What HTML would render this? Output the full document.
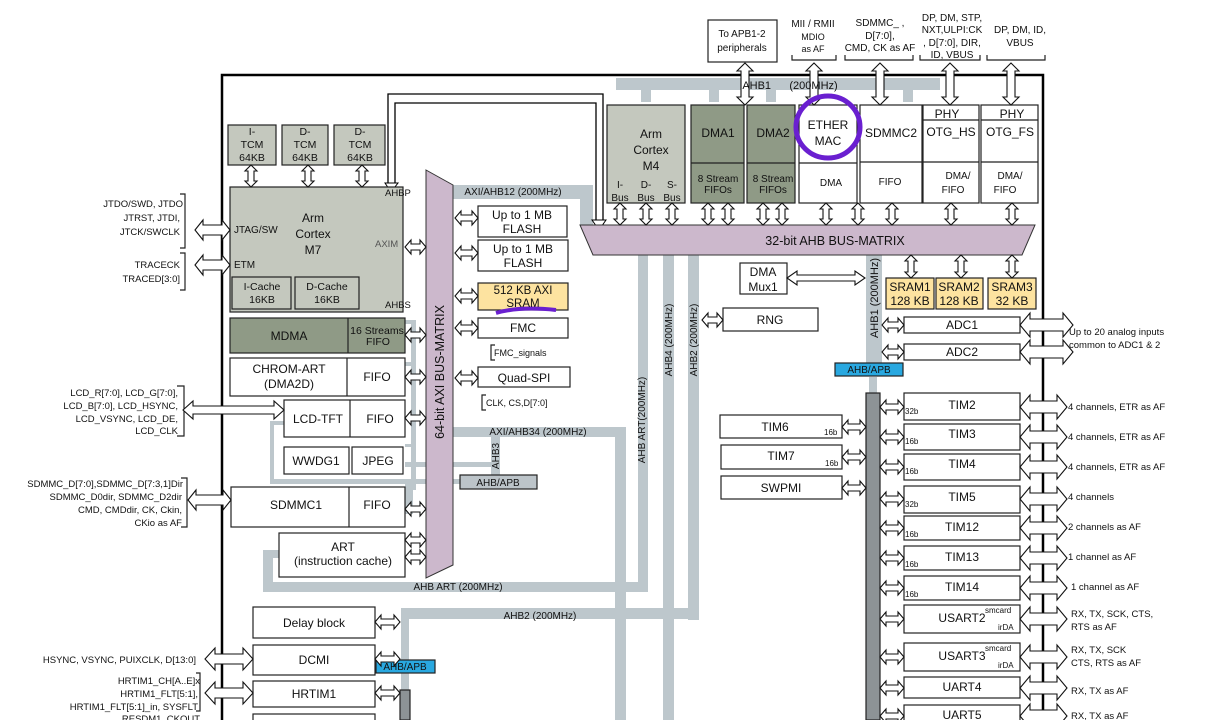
<!DOCTYPE html>
<html><head><meta charset="utf-8"><style>
html,body{margin:0;padding:0;background:#fff;width:1206px;height:720px;overflow:hidden}
svg{display:block;font-family:"Liberation Sans",sans-serif}
</style></head><body>
<svg id="s" width="1206" height="720" viewBox="0 0 1206 720" xmlns="http://www.w3.org/2000/svg">
<g id="buses" fill="#bdc7cc">
<rect x="616" y="78" width="324" height="12"/>
<rect x="641" y="90" width="10" height="12"/><rect x="709" y="90" width="10" height="12"/><rect x="766" y="90" width="10" height="12"/><rect x="903" y="90" width="10" height="12"/>
<rect x="450" y="185" width="143" height="14"/><rect x="580" y="185" width="13" height="40"/>
<rect x="638" y="253" width="10" height="339"/>
<rect x="663" y="253" width="11" height="467"/>
<rect x="688" y="253" width="11" height="367"/>
<rect x="866" y="253" width="16" height="110"/>
<rect x="869" y="377" width="8" height="16"/>
<rect x="453" y="427" width="173" height="10"/><rect x="615" y="427" width="11" height="293"/>
<rect x="263" y="582" width="385" height="10"/><rect x="263" y="550" width="10" height="42"/><rect x="263" y="550" width="16" height="8"/>
<rect x="401" y="608" width="298" height="11"/><rect x="401" y="608" width="8" height="82"/>
<rect x="491" y="437" width="9" height="38"/>
<rect x="411" y="320" width="5" height="170"/>
<rect x="405" y="320" width="8" height="4"/>
<rect x="405" y="362" width="8" height="4"/>
<rect x="405" y="444" width="8" height="3"/>
<rect x="405" y="462" width="90" height="5"/>
<rect x="270" y="421" width="4" height="62"/>
<rect x="270" y="421" width="14" height="4"/>
<rect x="270" y="479" width="223" height="5"/>
<rect x="405" y="484" width="8" height="30"/>
</g>
<g id="lines" stroke="#000" fill="none">
<path d="M222 720 V75 H1043 V720" stroke-width="2.5"/>
</g>
<path d="M388 190 V94 H603 V225 M395 190 V103 H596 V225" stroke="#000" stroke-width="1.3" fill="none"/>
<polygon points="385,183 398,183 391,192" fill="#fff" stroke="#000"/>
<polygon points="592,220 606,220 599,230" fill="#fff" stroke="#000"/>
<polygon points="426,170 453,185 453,565 426,578" fill="#ccb8cc" stroke="#333"/>
<polygon points="580,225 1035,225 1022,255 593,255" fill="#ccb8cc" stroke="#333"/>
<g font-size="12.5" text-anchor="middle" fill="#111">
<text x="835" y="245">32-bit AHB BUS-MATRIX</text>
<text transform="translate(444,372) rotate(-90)">64-bit AXI BUS-MATRIX</text>
</g>
<g id="boxes" stroke="#222" stroke-width="1.2">
<rect x="708" y="20" width="69" height="42" fill="#fff"/>
<rect x="228" y="125" width="48" height="40" fill="#c4c8be"/>
<rect x="282" y="125" width="46" height="40" fill="#c4c8be"/>
<rect x="334" y="125" width="51" height="40" fill="#c4c8be"/>
<rect x="230" y="187" width="173" height="125" fill="#c4c8be"/>
<rect x="232" y="277" width="59" height="32" fill="#c4c8be"/>
<rect x="295" y="277" width="64" height="32" fill="#c4c8be"/>
<rect x="230" y="318" width="175" height="35" fill="#8f9a86"/><line x1="348" y1="318" x2="348" y2="353"/>
<rect x="230" y="358" width="175" height="38" fill="#fff"/><line x1="347" y1="358" x2="347" y2="396"/>
<rect x="284" y="400" width="121" height="37" fill="#fff"/><line x1="350" y1="400" x2="350" y2="437"/>
<rect x="284" y="447" width="65" height="27" fill="#fff"/>
<rect x="352" y="447" width="51" height="27" fill="#fff"/>
<rect x="231" y="487" width="174" height="40" fill="#fff"/><line x1="349" y1="487" x2="349" y2="527"/>
<rect x="279" y="533" width="126" height="44" fill="#fff"/>
<rect x="253" y="607" width="122" height="31" fill="#fff"/>
<rect x="253" y="645" width="122" height="30" fill="#fff"/>
<rect x="253" y="681" width="122" height="26" fill="#fff"/>
<rect x="253" y="714" width="122" height="20" fill="#fff"/>
<rect x="478" y="206" width="89" height="31" fill="#fff"/>
<rect x="478" y="240" width="90" height="31" fill="#fff"/>
<rect x="478" y="283" width="90" height="27" fill="#fde3a0"/>
<rect x="478" y="318" width="90" height="20" fill="#fff"/>
<rect x="478" y="367" width="92" height="20" fill="#fff"/>
<rect x="460" y="475" width="77" height="14" fill="#bcc4c9"/>
<rect x="376" y="660" width="59" height="13" fill="#29a8e0"/>
<rect x="835" y="363" width="68" height="13" fill="#29a8e0"/>
<rect x="400" y="690" width="10" height="30" fill="#8d9396"/>
<rect x="866" y="393" width="14" height="327" fill="#8d9396"/>
<rect x="607" y="105" width="78" height="98" fill="#c4c8be"/>
<rect x="691" y="105" width="53" height="98" fill="#8f9a86"/><line x1="691" y1="163" x2="744" y2="163"/>
<rect x="747" y="105" width="48" height="98" fill="#8f9a86"/><line x1="747" y1="163" x2="795" y2="163"/>
<rect x="799" y="105" width="58" height="98" fill="#fff"/><line x1="799" y1="163" x2="857" y2="163"/>
<rect x="860" y="105" width="62" height="98" fill="#fff"/><line x1="860" y1="162" x2="922" y2="162"/>
<rect x="923" y="105" width="56" height="98" fill="#fff"/><line x1="923" y1="120" x2="979" y2="120"/><line x1="923" y1="162" x2="979" y2="162"/>
<rect x="981" y="105" width="57" height="98" fill="#fff"/><line x1="981" y1="120" x2="1038" y2="120"/><line x1="981" y1="162" x2="1038" y2="162"/>
<rect x="740" y="263" width="47" height="31" fill="#fff"/>
<rect x="886" y="278" width="48" height="31" fill="#fde3a0"/>
<rect x="936" y="278" width="47" height="31" fill="#fde3a0"/>
<rect x="988" y="278" width="48" height="31" fill="#fde3a0"/>
<rect x="723" y="308" width="95" height="23" fill="#fff"/>
<rect x="904" y="317" width="116" height="16" fill="#fff"/>
<rect x="904" y="344" width="116" height="16" fill="#fff"/>
<rect x="720" y="415" width="122" height="23" fill="#fff"/>
<rect x="721" y="445" width="121" height="24" fill="#fff"/>
<rect x="721" y="476" width="121" height="23" fill="#fff"/>
<rect x="904" y="393" width="116" height="27" fill="#fff"/>
<rect x="904" y="424" width="116" height="26" fill="#fff"/>
<rect x="904" y="454" width="116" height="26" fill="#fff"/>
<rect x="904" y="486" width="116" height="27" fill="#fff"/>
<rect x="904" y="516" width="116" height="24" fill="#fff"/>
<rect x="904" y="546" width="116" height="24" fill="#fff"/>
<rect x="904" y="576" width="116" height="24" fill="#fff"/>
<rect x="904" y="605" width="116" height="28" fill="#fff"/>
<rect x="904" y="643" width="116" height="28" fill="#fff"/>
<rect x="904" y="677" width="116" height="21" fill="#fff"/>
<rect x="904" y="705" width="116" height="25" fill="#fff"/>
</g>
<g stroke="#222" fill="none" stroke-width="1.2">
<path d="M792 55 V60 H836 V55"/><path d="M845 55 V60 H913 V55"/><path d="M920 55 V60 H980 V55"/><path d="M987 55 V60 H1045 V55"/>
<path d="M180 194 H185 V248 H180"/><path d="M180 253 H185 V290 H180"/>
<path d="M177 386 H184 V436 H177"/><path d="M181 478 H187 V527 H181"/>
<path d="M196 673 H200 V711 H196"/>
<path d="M495 345 H491 V360 H495"/><path d="M486 395 H482 V410 H486"/>
</g>
<g id="arrows" fill="#fff" stroke="#111" stroke-width="1.1"></g>
<path d="M496 313 Q520 306 556 310" stroke="#6a1fd0" stroke-width="4" fill="none"/>
<ellipse cx="828" cy="127" rx="32" ry="31" stroke="#6a1fd0" stroke-width="5" fill="none"/>
<g font-size="12" text-anchor="middle" fill="#111">
<text x="742" y="37" font-size="10">To APB1-2</text><text x="742" y="51" font-size="10">peripherals</text>
<text x="813" y="27" font-size="10">MII / RMII</text><text x="813" y="40" font-size="9">MDIO</text><text x="813" y="52" font-size="9">as AF</text>
<text x="880" y="26" font-size="10">SDMMC_ ,</text><text x="880" y="39" font-size="10">D[7:0],</text><text x="880" y="51" font-size="10">CMD, CK as AF</text>
<text x="952" y="21" font-size="10">DP, DM, STP,</text><text x="952" y="33" font-size="10">NXT,ULPI:CK</text><text x="952" y="46" font-size="10">, D[7:0], DIR,</text><text x="952" y="58" font-size="10">ID, VBUS</text>
<text x="1020" y="33" font-size="10">DP, DM, ID,</text><text x="1020" y="46" font-size="10">VBUS</text>
<text x="790" y="89" font-size="11">AHB1&#160;&#160;&#160;&#160;&#160;&#160;(200MHz)</text>
<text x="252" y="135" font-size="10.5">I-</text><text x="252" y="148" font-size="10.5">TCM</text><text x="252" y="161" font-size="10.5">64KB</text>
<text x="305" y="135" font-size="10.5">D-</text><text x="305" y="148" font-size="10.5">TCM</text><text x="305" y="161" font-size="10.5">64KB</text>
<text x="360" y="135" font-size="10.5">D-</text><text x="360" y="148" font-size="10.5">TCM</text><text x="360" y="161" font-size="10.5">64KB</text>
<text x="313" y="222">Arm</text><text x="313" y="238">Cortex</text><text x="313" y="254">M7</text>
<text x="262" y="290" font-size="10.5">I-Cache</text><text x="262" y="303" font-size="10.5">16KB</text>
<text x="327" y="290" font-size="10.5">D-Cache</text><text x="327" y="303" font-size="10.5">16KB</text>
<text x="289" y="340">MDMA</text><text x="377" y="334" font-size="10.5">16 Streams</text><text x="378" y="345" font-size="10.5">FIFO</text>
<text x="289" y="373">CHROM-ART</text><text x="289" y="388">(DMA2D)</text><text x="377" y="381">FIFO</text>
<text x="318" y="423">LCD-TFT</text><text x="380" y="423">FIFO</text>
<text x="316" y="465">WWDG1</text><text x="378" y="465">JPEG</text>
<text x="296" y="509">SDMMC1</text><text x="377" y="509">FIFO</text>
<text x="343" y="551">ART</text><text x="343" y="565">(instruction cache)</text>
<text x="314" y="627">Delay block</text><text x="314" y="664">DCMI</text><text x="314" y="698">HRTIM1</text>
<text x="522" y="219">Up to 1 MB</text><text x="522" y="233">FLASH</text>
<text x="523" y="253">Up to 1 MB</text><text x="523" y="267">FLASH</text>
<text x="523" y="294" font-size="11.5">512 KB AXI</text><text x="523" y="307" font-size="11.5">SRAM</text>
<text x="523" y="332">FMC</text><text x="524" y="382">Quad-SPI</text>
<text x="498" y="486" font-size="10">AHB/APB</text>
<text x="405" y="670" font-size="10">AHB/APB</text>
<text x="869" y="373" font-size="10">AHB/APB</text>
<text x="513" y="195" font-size="10">AXI/AHB12 (200MHz)</text>
<text x="538" y="435" font-size="10">AXI/AHB34 (200MHz)</text>
<text x="458" y="590" font-size="10">AHB ART (200MHz)</text>
<text x="540" y="619" font-size="10">AHB2 (200MHz)</text>
<text transform="translate(499,456) rotate(-90)" font-size="10">AHB3</text>
<text transform="translate(645,420) rotate(-90)" font-size="10">AHB ART(200MHz)</text>
<text transform="translate(672,340) rotate(-90)" font-size="10">AHB4 (200MHz)</text>
<text transform="translate(697,340) rotate(-90)" font-size="10">AHB2 (200MHz)</text>
<text transform="translate(878,298) rotate(-90)" font-size="11">AHB1 (200MHz)</text>
<text x="651" y="138">Arm</text><text x="651" y="154">Cortex</text><text x="651" y="170">M4</text>
<text x="620" y="188" font-size="10">I-</text><text x="620" y="201" font-size="10">Bus</text>
<text x="646" y="188" font-size="10">D-</text><text x="646" y="201" font-size="10">Bus</text>
<text x="672" y="188" font-size="10">S-</text><text x="672" y="201" font-size="10">Bus</text>
<text x="718" y="137">DMA1</text><text x="718" y="182" font-size="10">8 Stream</text><text x="718" y="193" font-size="10">FIFOs</text>
<text x="773" y="137">DMA2</text><text x="773" y="182" font-size="10">8 Stream</text><text x="773" y="193" font-size="10">FIFOs</text>
<text x="828" y="129">ETHER</text><text x="828" y="145">MAC</text><text x="831" y="186" font-size="10">DMA</text>
<text x="891" y="137">SDMMC2</text><text x="890" y="185" font-size="10">FIFO</text>
<text x="947" y="118">PHY</text><text x="951" y="136">OTG_HS</text><text x="958" y="179" font-size="10">DMA/</text><text x="953" y="193" font-size="10">FIFO</text>
<text x="1012" y="118">PHY</text><text x="1010" y="136">OTG_FS</text><text x="1010" y="179" font-size="10">DMA/</text><text x="1005" y="193" font-size="10">FIFO</text>
<text x="763" y="276">DMA</text><text x="763" y="291">Mux1</text>
<text x="910" y="291">SRAM1</text><text x="910" y="305">128 KB</text>
<text x="959" y="291">SRAM2</text><text x="959" y="305">128 KB</text>
<text x="1012" y="291">SRAM3</text><text x="1012" y="305">32 KB</text>
<text x="770" y="324">RNG</text>
<text x="962" y="329">ADC1</text><text x="962" y="356">ADC2</text>
<text x="775" y="431">TIM6</text><text x="781" y="460">TIM7</text><text x="781" y="492">SWPMI</text>
<text x="962" y="409">TIM2</text><text x="962" y="438">TIM3</text><text x="962" y="468">TIM4</text><text x="962" y="501">TIM5</text>
<text x="962" y="531">TIM12</text><text x="962" y="561">TIM13</text><text x="962" y="591">TIM14</text>
<text x="962" y="622">USART2</text><text x="962" y="660">USART3</text><text x="962" y="691">UART4</text><text x="962" y="719">UART5</text>
</g>
<g font-size="8" fill="#111">
<text x="824" y="435">16b</text><text x="825" y="466">16b</text>
<text x="905" y="414">32b</text><text x="905" y="444">16b</text><text x="905" y="474">16b</text><text x="905" y="507">32b</text>
<text x="905" y="537">16b</text><text x="905" y="567">16b</text><text x="905" y="597">16b</text>
<text x="985" y="613">smcard</text><text x="998" y="630">irDA</text><text x="985" y="651">smcard</text><text x="998" y="668">irDA</text>
</g>
<g font-size="10" fill="#111">
<text x="385" y="196" font-size="9.5">AHBP</text><text x="234" y="233" font-size="10">JTAG/SW</text><text x="375" y="247" font-size="9.5" fill="#555">AXIM</text>
<text x="234" y="268">ETM</text><text x="385" y="308" font-size="9.5">AHBS</text>
<text x="494" y="356" font-size="9">FMC_signals</text><text x="486" y="406" font-size="9">CLK, CS,D[7:0]</text>
<text x="1069" y="335" font-size="9.5">Up to 20 analog inputs</text><text x="1069" y="348" font-size="9.5">common to ADC1 &amp; 2</text>
<text x="1068" y="410" font-size="9.5">4 channels, ETR as AF</text>
<text x="1068" y="440" font-size="9.5">4 channels, ETR as AF</text>
<text x="1068" y="470" font-size="9.5">4 channels, ETR as AF</text>
<text x="1068" y="500" font-size="9.5">4 channels</text>
<text x="1068" y="530" font-size="9.5">2 channels as AF</text>
<text x="1068" y="560" font-size="9.5">1 channel as AF</text>
<text x="1071" y="590" font-size="9.5">1 channel as AF</text>
<text x="1071" y="617" font-size="9.5">RX, TX, SCK, CTS,</text><text x="1071" y="630" font-size="9.5">RTS as AF</text>
<text x="1071" y="653" font-size="9.5">RX, TX, SCK</text><text x="1071" y="666" font-size="9.5">CTS, RTS as AF</text>
<text x="1071" y="694" font-size="9.5">RX, TX as AF</text><text x="1071" y="719" font-size="9.5">RX, TX as AF</text>
</g>
<g font-size="9.5" fill="#111" text-anchor="end">
<text x="183" y="207">JTDO/SWD, JTDO</text><text x="180" y="221">JTRST, JTDI,</text><text x="180" y="235">JTCK/SWCLK</text>
<text x="180" y="268">TRACECK</text><text x="180" y="282">TRACED[3:0]</text>
<text x="178" y="396">LCD_R[7:0], LCD_G[7:0],</text><text x="178" y="409">LCD_B[7:0], LCD_HSYNC,</text><text x="178" y="422">LCD_VSYNC, LCD_DE,</text><text x="178" y="434">LCD_CLK</text>
<text x="183" y="487">SDMMC_D[7:0],SDMMC_D[7:3,1]Dir</text><text x="182" y="500">SDMMC_D0dir, SDMMC_D2dir</text><text x="182" y="513">CMD, CMDdir, CK, Ckin,</text><text x="182" y="526">CKio as AF</text>
<text x="196" y="663">HSYNC, VSYNC, PUIXCLK, D[13:0]</text>
<text x="200" y="684">HRTIM1_CH[A..E]x</text><text x="198" y="697">HRTIM1_FLT[5:1],</text><text x="198" y="710">HRTIM1_FLT[5:1]_in, SYSFLT</text>
<text x="200" y="722">RESDM1_CKOUT</text>
</g>
</svg>
<script>
(function(){
var g=document.getElementById('arrows'),NS='http://www.w3.org/2000/svg';
function P(pts){var p=document.createElementNS(NS,'polygon');p.setAttribute('points',pts.map(function(a){return a.join(',')}).join(' '));g.appendChild(p);}
function H(x1,x2,y,h,H2,L){h=h||3;H2=H2||7;L=L||6;P([[x1,y],[x1+L,y-H2],[x1+L,y-h],[x2-L,y-h],[x2-L,y-H2],[x2,y],[x2-L,y+H2],[x2-L,y+h],[x1+L,y+h],[x1+L,y+H2]]);}
function V(y1,y2,x,h,H2,L){h=h||3;H2=H2||6;L=L||6;P([[x,y1],[x-H2,y1+L],[x-h,y1+L],[x-h,y2-L],[x-H2,y2-L],[x,y2],[x+H2,y2-L],[x+h,y2-L],[x+h,y1+L],[x+H2,y1+L]]);}
[745,814,880,950,1011].forEach(function(x){V(63,105,x,4,8,8);});
[251,308,362].forEach(function(x){V(165,187,x);});
[620,646,672,708,728,763,782,826,858,892,951,1012].forEach(function(x){V(203,225,x);});
[911,961,1012].forEach(function(x){V(255,278,x);});
[247,335,377,418,509,540,557].forEach(function(y){H(405,426,y);});
[218,253,296,328,378].forEach(function(y){H(455,478,y);});
H(195,230,230,5,10,8);H(195,230,265,5,10,8);
H(183,284,410,4,9,10);H(188,231,500,5,10,8);
H(205,253,659,5,11,10);H(205,253,693,5,11,10);
[622,659,693].forEach(function(y){H(375,400,y);});
H(702,723,320);H(787,865,278,3,7,10);
H(882,904,325);H(882,904,352);
H(1020,1073,325,6,12,10);H(1020,1073,352,6,12,10);
[407,437,467,499,528,558,588,619,657,688,716].forEach(function(y){H(1020,1067,y,6,12,10);H(880,904,y);});
[427,457,488].forEach(function(y){H(842,866,y);});
})();
</script>
</body></html>
